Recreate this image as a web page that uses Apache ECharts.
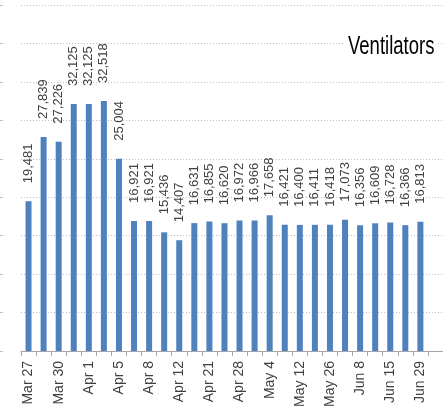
<!DOCTYPE html>
<html lang="en">
<head>
    <meta charset="UTF-8">
    <title>Ventilators</title>
    <script src="https://cdn.jsdelivr.net/npm/echarts@6/dist/echarts.min.js"></script>
    <style>
        body {
            margin: 0;
            padding: 0;
            background: #fff;
        }

        #box {
            width: 443px;
            height: 411px;
        }
    </style>
</head>
<body>
<div id="box"></div>

<script>
    // dates on the x axis (only every other one is printed), last slot is empty
    var dates = ['Mar 27', 'Mar 29', 'Mar 30', 'Mar 31', 'Apr 1', 'Apr 3', 'Apr 5', 'Apr 6', 'Apr 8', 'Apr 10',
        'Apr 12', 'Apr 14', 'Apr 21', 'Apr 24', 'Apr 28', 'May 1', 'May 4', 'May 7', 'May 12', 'May 19',
        'May 26', 'Jun 2', 'Jun 8', 'Jun 11', 'Jun 15', 'Jun 22', 'Jun 29', ''];
    var ventilators = [19481, 27839, 27226, 32125, 32125, 32518, 25004, 16921, 16921, 15436,
        14407, 16631, 16855, 16620, 16972, 16966, 17658, 16421, 16400, 16411,
        16418, 17073, 16356, 16609, 16728, 16366, 16813];
    var yMax = 45000;
    var yStep = 5000;

    var myChart = echarts.init(document.getElementById("box"));

    var option = {
        animation: false,
        // the title is a narrow face in the original, so squeeze a normal one
        graphic: [{
            type: 'rect',
            z: 10,
            shape: {x: 343, y: 35, width: 95, height: 26},
            style: {fill: '#fff'}
        }, {
            type: 'text',
            z: 11,
            x: 348,
            y: 47,
            scaleX: 0.74,
            style: {
                text: 'Ventilators',
                font: '25px "Liberation Sans", Arial, sans-serif',
                fill: '#000',
                align: 'left',
                verticalAlign: 'middle'
            }
        }],
        grid: {
            left: 21,
            right: 0,
            top: 5,
            bottom: 60
        },
        xAxis: {
            type: 'category',
            data: dates,
            boundaryGap: true,
            axisLine: {lineStyle: {color: '#a6a6a6'}},
            axisTick: {
                show: true,
                length: 5,
                alignWithLabel: false,
                interval: 0,
                lineStyle: {color: '#a6a6a6'}
            },
            axisLabel: {
                interval: 1,
                rotate: 90,
                margin: 10,
                fontFamily: '"Liberation Sans", Arial, sans-serif',
                fontSize: 14,
                color: '#404040'
            }
        },
        yAxis: [{
            type: 'value',
            min: 0,
            max: yMax,
            interval: yStep,
            axisLine: {show: false},
            axisTick: {show: false},
            axisLabel: {show: false},
            splitLine: {
                show: true,
                lineStyle: {color: '#bfbfbf', type: [1, 2], width: 1}
            }
        }, {
            // bits of the neighbouring axis that peek in at the left edge
            type: 'value',
            position: 'left',
            offset: 18,
            min: 0,
            max: yMax,
            interval: yStep,
            axisLine: {show: false},
            axisTick: {show: true, length: 3, lineStyle: {color: '#bfbfbf'}},
            axisLabel: {show: false},
            splitLine: {show: false}
        }],
        series: [{
            name: 'Ventilators',
            type: 'bar',
            data: ventilators,
            barWidth: 6,
            itemStyle: {color: '#4f81bd'},
            label: {
                show: true,
                position: 'top',
                distance: 18,
                rotate: 90,
                align: 'left',
                verticalAlign: 'middle',
                fontFamily: '"Liberation Sans", Arial, sans-serif',
                fontSize: 13,
                color: '#404040',
                formatter: function (p) {
                    return p.value.toLocaleString('en-US');
                }
            }
        }]
    };

    myChart.setOption(option);
</script>
</body>
</html>
